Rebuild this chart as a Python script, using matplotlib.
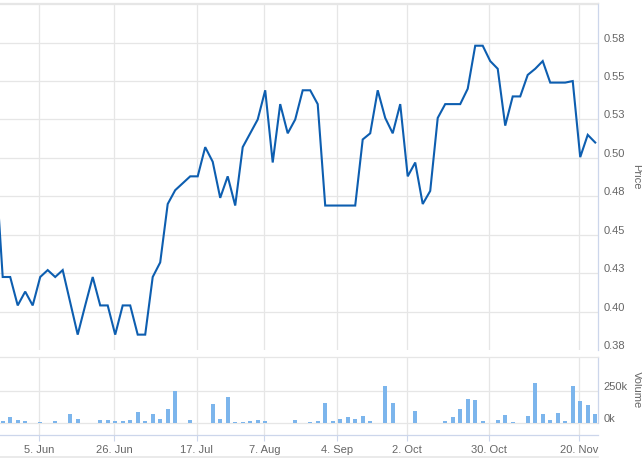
"""Price & volume chart (Highcharts-stock style, ordinal x axis)"""
import matplotlib
matplotlib.use('Agg')
import matplotlib.pyplot as plt
from matplotlib.transforms import ScaledTranslation
from matplotlib.lines import Line2D

plt.rcParams['font.family'] = ['Liberation Sans', 'DejaVu Sans']

# 数据: 每个交易点等距 (ordinal axis), 第一个点在画面左侧被裁掉
price = [0.499,
         0.4225, 0.4225, 0.404, 0.413, 0.404, 0.4225, 0.427, 0.4225, 0.427, 0.406,
         0.385, 0.404, 0.4225, 0.404, 0.404, 0.385, 0.404, 0.404, 0.385, 0.385,
         0.4225, 0.432, 0.470, 0.479, 0.4835, 0.488, 0.488, 0.507, 0.4975, 0.474,
         0.488, 0.469, 0.507, 0.516, 0.525, 0.544, 0.497, 0.535, 0.516, 0.525,
         0.544, 0.544, 0.535, 0.469, 0.469, 0.469, 0.469, 0.469, 0.512, 0.516,
         0.544, 0.526, 0.516, 0.535, 0.488, 0.497, 0.470, 0.4785, 0.526, 0.535,
         0.535, 0.535, 0.545, 0.573, 0.573, 0.563, 0.558, 0.521, 0.540, 0.540,
         0.554, 0.558, 0.563, 0.549, 0.549, 0.549, 0.550, 0.5005, 0.515, 0.510]

volume_k = [0,
            13, 45, 19, 13, 0, 8, 0, 11, 0, 66,
            27, 0, 0, 19, 19, 13, 13, 19, 80, 13,
            66, 27, 106, 250, 0, 19, 0, 0, 146, 27,
            205, 8, 8, 11, 19, 13, 0, 0, 0, 19,
            0, 8, 13, 157, 13, 27, 40, 27, 53, 11,
            0, 293, 157, 0, 0, 88, 0, 0, 0, 13,
            40, 106, 186, 178, 13, 0, 19, 59, 8, 0,
            53, 311, 66, 19, 74, 11, 293, 173, 138, 66]

date_labels = ['5. Jun', '26. Jun', '17. Jul', '7. Aug', '4. Sep', '2. Oct', '30. Oct', '20. Nov']
date_pos = [5.88, 15.88, 26.87, 35.88, 45.61, 54.95, 65.88, 77.88]

price_ticks = [0.375, 0.4, 0.425, 0.45, 0.475, 0.5, 0.525, 0.55, 0.575]
price_labels = ['0.38', '0.40', '0.43', '0.45', '0.48', '0.50', '0.53', '0.55', '0.58']
vol_ticks = [0, 250000]
vol_labels = ['0k', '250k']

x = list(range(len(price)))
volume = [v * 1000 for v in volume_k]

W, H = 642, 461
fig = plt.figure(figsize=(W / 100, H / 100), dpi=100)

def box(left, top, right, bottom):
    return [left / W, 1 - bottom / H, (right - left) / W, (bottom - top) / H]

grid_c = '#e6e6e6'
axis_c = '#ccd6eb'
text_c = '#666666'
xlim = (0.64, 80.41)

ax1 = fig.add_axes(box(0, 3.3, 598.3, 350))
ax2 = fig.add_axes(box(0, 357.3, 598.3, 435))

# ----- 价格 -----
ax1.plot(x, price, color='#0d5eb0', linewidth=1.5, solid_joinstyle='miter', zorder=3)
ax1.set_xlim(*xlim)
ax1.set_ylim(0.375, 0.6006)
ax1.set_yticks(price_ticks)
ax1.set_yticklabels(price_labels)
ax1.set_xticks(date_pos)
ax1.tick_params(axis='x', length=0, labelbottom=False)
for yv in price_ticks[1:] + [0.6]:
    ax1.axhline(yv, color=grid_c, linewidth=0.9, zorder=1)
for xv in date_pos:
    ax1.axvline(xv, color=grid_c, linewidth=0.9, zorder=1)

# ----- 成交量 -----
ax2.bar(x, volume, width=0.58, color='#7cb5ec', zorder=3)
ax2.set_xlim(*xlim)
ax2.set_ylim(-99000, 517000)
ax2.set_yticks(vol_ticks)
ax2.set_yticklabels(vol_labels)
ax2.set_xticks(date_pos)
ax2.set_xticklabels(date_labels)
for yv in vol_ticks:
    ax2.axhline(yv, color=grid_c, linewidth=0.9, zorder=1)
for xv in date_pos:
    ax2.axvline(xv, color=grid_c, linewidth=0.9, zorder=1)
ax2.tick_params(axis='x', length=4.5, width=0.8, color=axis_c, pad=3,
                labelsize=8, labelcolor=text_c)

for ax in (ax1, ax2):
    ax.yaxis.tick_right()
    ax.tick_params(axis='y', length=0, pad=3.6, labelsize=8, labelcolor=text_c)
    ax.spines['left'].set_visible(False)
    ax.spines['right'].set_color(axis_c)
    ax.spines['right'].set_linewidth(0.9)
    ax.spines['top'].set_color(grid_c)
    ax.spines['top'].set_linewidth(0.9)
    for lbl in ax.get_yticklabels():
        lbl.set_transform(lbl.get_transform() + ScaledTranslation(0, 5 / 100, fig.dpi_scale_trans))

ax1.spines['bottom'].set_visible(False)
ax2.spines['bottom'].set_color(axis_c)
ax2.spines['bottom'].set_linewidth(0.9)
ax2.spines['right'].set_bounds(0, 517000)

fig.text(636 / W, 1 - 176.7 / H, 'Price', rotation=270, ha='center', va='center',
         fontsize=8, color=text_c)
fig.text(636.7 / W, 1 - 390 / H, 'Volume', rotation=270, ha='center', va='center',
         fontsize=8, color=text_c)

# 底部导航线
fig.add_artist(Line2D([0, 598.3 / W], [1 - 457 / H, 1 - 457 / H],
                      color=grid_c, linewidth=1.2, transform=fig.transFigure))

plt.savefig('out.png', dpi=100)
